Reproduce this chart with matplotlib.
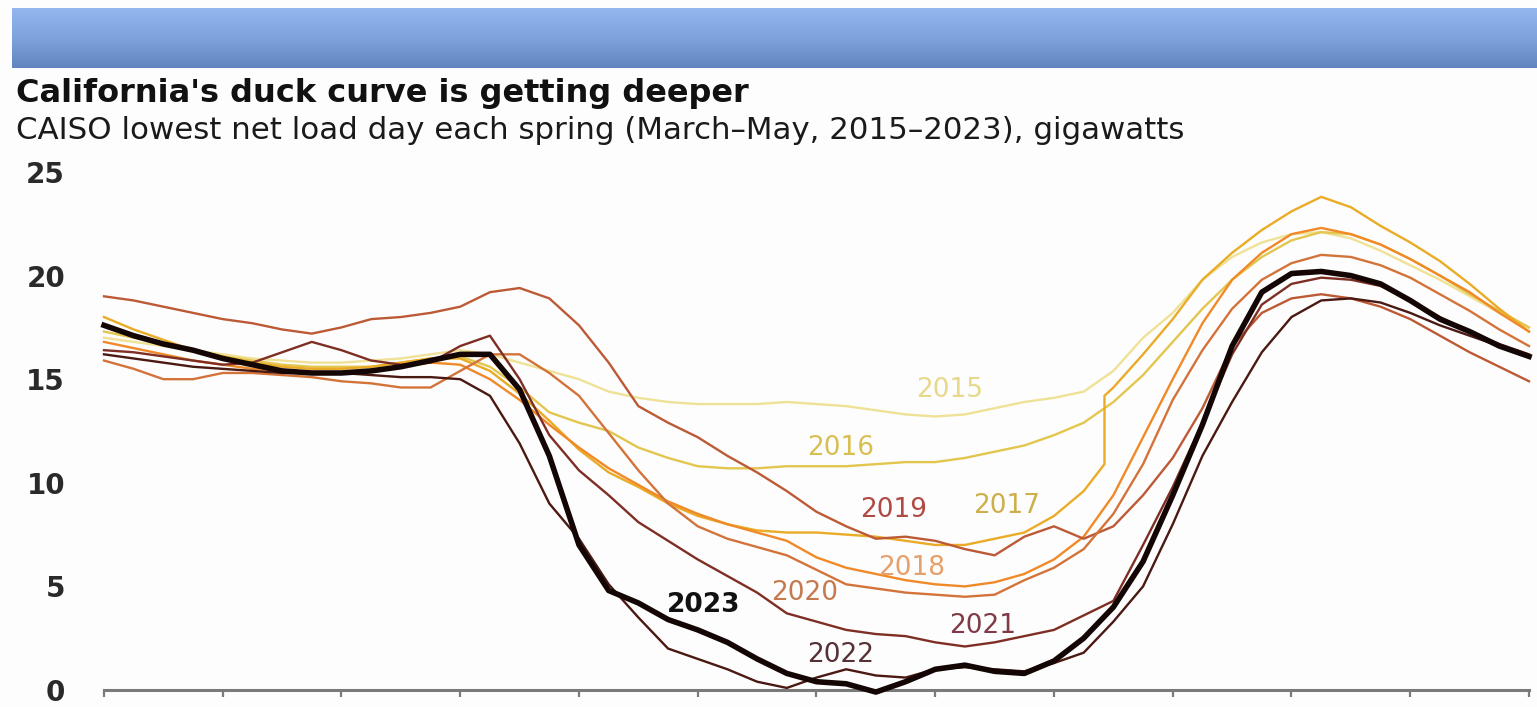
import numpy as np
import matplotlib
matplotlib.use("Agg")
import matplotlib.pyplot as plt
from matplotlib.colors import LinearSegmentedColormap

plt.rcParams['font.family'] = ['DejaVu Sans']

# Half-hourly grid, hour of day
HOURS = list(np.arange(0, 24.01, 0.5))

# Net load, gigawatts (lowest spring day of each year)
Y2015 = [17.0, 16.8, 16.6, 16.4, 16.2, 16.0, 15.9, 15.8, 15.8, 15.9,
         16.0, 16.2, 16.4, 16.2, 15.8, 15.4, 15.0, 14.4, 14.1, 13.9,
         13.8, 13.8, 13.8, 13.9, 13.8, 13.7, 13.5, 13.3, 13.2, 13.3,
         13.6, 13.9, 14.1, 14.4, 15.4, 17.0, 18.2, 19.8, 20.9, 21.6,
         22.0, 22.1, 21.8, 21.2, 20.5, 19.8, 19.0, 18.2, 17.5]
Y2016 = [17.3, 17.0, 16.7, 16.4, 16.1, 15.9, 15.7, 15.6, 15.6, 15.6,
         15.8, 16.0, 16.1, 15.6, 14.6, 13.4, 12.9, 12.5, 11.7, 11.2,
         10.8, 10.7, 10.7, 10.8, 10.8, 10.8, 10.9, 11.0, 11.0, 11.2,
         11.5, 11.8, 12.3, 12.9, 13.9, 15.2, 16.8, 18.4, 19.8, 20.9,
         21.7, 22.1, 22.0, 21.5, 20.8, 20.0, 19.1, 18.3, 17.5]
# 2017 has a sharp step just before 17:00
HOURS_2017 = HOURS[:34] + [16.85, 16.85] + HOURS[34:]
Y2017 = [18.0, 17.4, 16.9, 16.4, 16.1, 15.8, 15.6, 15.5, 15.5, 15.6,
         15.8, 16.0, 16.0, 15.4, 14.3, 13.0, 11.6, 10.5, 9.8, 9.0,
         8.4, 8.0, 7.7, 7.6, 7.6, 7.5, 7.4, 7.2, 7.0, 7.0,
         7.3, 7.6, 8.4, 9.6, 10.9, 14.2,
         14.6, 16.2, 17.9, 19.8, 21.1, 22.2, 23.1, 23.8, 23.3, 22.4,
         21.6, 20.7, 19.6, 18.4, 17.3]
Y2018 = [16.8, 16.5, 16.2, 15.9, 15.7, 15.5, 15.4, 15.3, 15.3, 15.4,
         15.6, 15.8, 15.7, 15.0, 14.0, 12.8, 11.7, 10.7, 9.9, 9.1,
         8.5, 8.0, 7.6, 7.2, 6.4, 5.9, 5.6, 5.3, 5.1, 5.0,
         5.2, 5.6, 6.3, 7.4, 9.4, 12.2, 15.0, 17.7, 19.8, 21.1,
         22.0, 22.3, 22.0, 21.5, 20.8, 20.0, 19.2, 18.2, 17.3]
Y2019 = [19.0, 18.8, 18.5, 18.2, 17.9, 17.7, 17.4, 17.2, 17.5, 17.9,
         18.0, 18.2, 18.5, 19.2, 19.4, 18.9, 17.6, 15.8, 13.7, 12.9,
         12.2, 11.3, 10.5, 9.6, 8.6, 7.9, 7.3, 7.4, 7.2, 6.8,
         6.5, 7.4, 7.9, 7.3, 7.9, 9.4, 11.2, 13.6, 16.6, 18.2,
         18.9, 19.1, 18.9, 18.5, 17.9, 17.1, 16.3, 15.6, 14.9]
Y2020 = [15.9, 15.5, 15.0, 15.0, 15.3, 15.3, 15.2, 15.1, 14.9, 14.8,
         14.6, 14.6, 15.4, 16.2, 16.2, 15.3, 14.2, 12.4, 10.6, 9.0,
         7.9, 7.3, 6.9, 6.5, 5.8, 5.1, 4.9, 4.7, 4.6, 4.5,
         4.6, 5.3, 5.9, 6.8, 8.5, 10.9, 14.0, 16.4, 18.4, 19.8,
         20.6, 21.0, 20.9, 20.5, 19.9, 19.1, 18.3, 17.4, 16.6]
Y2021 = [16.4, 16.3, 16.1, 15.9, 15.7, 15.8, 16.3, 16.8, 16.4, 15.9,
         15.7, 15.8, 16.6, 17.1, 15.0, 12.3, 10.6, 9.4, 8.1, 7.2,
         6.3, 5.5, 4.7, 3.7, 3.3, 2.9, 2.7, 2.6, 2.3, 2.1,
         2.3, 2.6, 2.9, 3.6, 4.3, 7.0, 9.8, 12.9, 16.2, 18.6,
         19.6, 19.9, 19.8, 19.5, 18.8, 18.0, 17.3, 16.7, 16.2]
Y2022 = [16.2, 16.0, 15.8, 15.6, 15.5, 15.4, 15.3, 15.3, 15.3, 15.2,
         15.1, 15.1, 15.0, 14.2, 11.9, 9.0, 7.3, 5.1, 3.5, 2.0,
         1.5, 1.0, 0.4, 0.1, 0.6, 1.0, 0.7, 0.6, 1.0, 1.1,
         1.0, 0.9, 1.3, 1.8, 3.3, 5.0, 8.0, 11.3, 13.9, 16.3,
         18.0, 18.8, 18.9, 18.7, 18.2, 17.6, 17.1, 16.6, 16.1]
Y2023 = [17.6, 17.1, 16.7, 16.4, 16.0, 15.7, 15.4, 15.3, 15.3, 15.4,
         15.6, 15.9, 16.2, 16.2, 14.5, 11.3, 7.0, 4.8, 4.2, 3.4,
         2.9, 2.3, 1.5, 0.8, 0.4, 0.3, -0.1, 0.4, 1.0, 1.2,
         0.9, 0.8, 1.4, 2.5, 4.0, 6.2, 9.4, 12.8, 16.6, 19.2,
         20.1, 20.2, 20.0, 19.6, 18.8, 17.9, 17.3, 16.6, 16.1]

YEARS = [2015, 2016, 2017, 2018, 2019, 2020, 2021, 2022, 2023]
SERIES = {
    2015: (HOURS, Y2015), 2016: (HOURS, Y2016), 2017: (HOURS_2017, Y2017),
    2018: (HOURS, Y2018), 2019: (HOURS, Y2019), 2020: (HOURS, Y2020),
    2021: (HOURS, Y2021), 2022: (HOURS, Y2022), 2023: (HOURS, Y2023),
}
LINE_COLORS = {2015: '#efe196', 2016: '#e3c64e', 2017: '#eaab26',
               2018: '#f08a28', 2019: '#bd5a36', 2020: '#d3733a',
               2021: '#7e2e24', 2022: '#4a1912', 2023: '#140604'}
LABEL_COLORS = {2015: '#e6d98a', 2016: '#d8bf52', 2017: '#cdb04c',
                2018: '#e6a06c', 2019: '#b04a44', 2020: '#c47a4e',
                2021: '#7f3a46', 2022: '#553034', 2023: '#111111'}
# Label anchor (hour, GW) for each year
LABEL_POS = {2015: (14.25, 14.5), 2016: (12.4, 11.7), 2017: (15.2, 8.9),
             2018: (13.6, 5.9), 2019: (13.3, 8.7), 2020: (11.8, 4.7),
             2021: (14.8, 3.1), 2022: (12.4, 1.7), 2023: (10.1, 4.1)}

X_TICKS = list(range(0, 25, 2))
Y_TICKS = [0, 5, 10, 15, 20, 25]

W, H = 1537, 707
fig = plt.figure(figsize=(W / 100, H / 100), dpi=100, facecolor='#fdfdfd')

# Blue header band
band = fig.add_axes([12 / W, 1 - 68 / H, 1 - 12 / W, 60 / H])
cmap = LinearSegmentedColormap.from_list(
    'band', ['#93b7ed', '#88ade6', '#7ea3dc', '#6f93cd', '#6184bf'])
band.imshow(np.linspace(0, 1, 100).reshape(-1, 1), aspect='auto', cmap=cmap,
            extent=[0, 1, 0, 1])
band.set_axis_off()

fig.text(16 / W, 1 - 102 / H, "California's duck curve is getting deeper",
         fontsize=23, fontweight='bold', color='#111111', va='baseline')
fig.text(16 / W, 1 - 139 / H,
         "CAISO lowest net load day each spring (March\u2013May, 2015\u20132023), gigawatts",
         fontsize=22.2, color='#1a1a1a', va='baseline')

ax = fig.add_axes([104 / W, 1 - 690 / H, (1529 - 104) / W, (690 - 172) / H])
ax.set_facecolor('none')

for yr in YEARS:
    xs, ys = SERIES[yr]
    lw = 4.0 if yr == 2023 else 1.7
    ax.plot(xs, ys, color=LINE_COLORS[yr], lw=lw, clip_on=False,
            solid_joinstyle='round', zorder=2 + YEARS.index(yr) * 0.1)

for yr in YEARS:
    hx, vy = LABEL_POS[yr]
    ax.text(hx, vy, str(yr), color=LABEL_COLORS[yr], fontsize=19,
            fontweight='bold' if yr == 2023 else 'normal',
            ha='center', va='center', zorder=5)

ax.set_xlim(0, 24)
ax.set_ylim(0, 25)
ax.set_xticks(X_TICKS)
ax.set_xticklabels([])
ax.set_yticks(Y_TICKS)
ax.set_yticklabels([str(v) for v in Y_TICKS])
for s in ['top', 'right', 'left']:
    ax.spines[s].set_visible(False)
ax.spines['bottom'].set_color('#7a7a7a')
ax.spines['bottom'].set_linewidth(2.2)
ax.tick_params(axis='x', direction='out', length=5, width=1.6, color='#7a7a7a')
ax.tick_params(axis='y', length=0, pad=28, labelsize=20, labelcolor='#2a2a2a')
for lab in ax.get_yticklabels():
    lab.set_fontweight('bold')

fig.savefig('out.png', dpi=100, facecolor=fig.get_facecolor())
